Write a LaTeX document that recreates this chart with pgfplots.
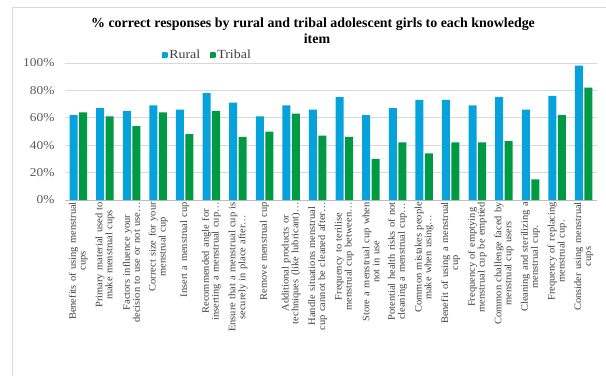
\documentclass[border=0pt]{standalone}
\usepackage{fontspec}
\setmainfont{Liberation Serif}
\newfontfamily\widefont[FakeStretch=1.12]{Liberation Serif}
\newfontfamily\labfont[FakeStretch=1.05,WordSpace=1.3]{Liberation Serif}
\usepackage{pgfplots}
\pgfplotsset{compat=1.18}
\usetikzlibrary{calc}
\definecolor{rural}{HTML}{00B6F4}
\definecolor{ruralD}{HTML}{06A2DC}
\definecolor{tribal}{HTML}{00B352}
\definecolor{tribalD}{HTML}{009A45}
\definecolor{gridgray}{HTML}{D9D9D9}
\definecolor{axgray}{HTML}{BFBFBF}
\definecolor{ticktext}{HTML}{595959}
\definecolor{labtext}{HTML}{404040}
\definecolor{bordergray}{HTML}{D9D9D9}
\begin{document}
\begin{tikzpicture}
\begin{axis}[
  name=ax,
  scale only axis, width=532bp, height=137bp,
  ymin=0, ymax=100, xmin=-0.5, xmax=19.5,
  ytick={0,20,...,100},
  yticklabel={\pgfmathprintnumber{\tick}\%},
  /pgf/number format/assume math mode=true,
  yticklabel style={font=\widefont\fontsize{12}{14}\selectfont, text=ticktext, xshift=-7bp},
  ymajorgrids, grid style={draw=gridgray, line width=0.8bp},
  axis x line*=bottom, axis y line*=left,
  x axis line style={draw=axgray, line width=0.8bp},
  y axis line style={draw=none},
  major tick length=0pt,
  xtick={0,...,19},
  xticklabels={
    {Benefits of using menstrual\\cups},
    {Primary material used to\\make menstrual cups},
    {Factors influence your\\decision to use or not use…},
    {Correct size for your\\menstrual cup},
    {Insert a menstrual cup},
    {Recommended angle for\\inserting a menstrual cup…},
    {Ensure that a menstrual cup is\\securely in place after…},
    {Remove menstrual cup},
    {Additional products or\\techniques (like lubricant)…},
    {Handle situations menstrual\\cup cannot be cleaned after…},
    {Frequency to terilise\\menstrual cup between…},
    {Store a menstrual cup when\\not in use},
    {Potential health risks of not\\cleaning a menstrual cup…},
    {Common mistakes people\\make when using…},
    {Benefit of using a menstrual\\cup},
    {Frequency of emptying\\menstrual cup be emptied},
    {Common challenge faced by\\menstrual cup users},
    {Cleaning and sterilizing a\\menstrual cup.},
    {Frequency of replacing\\menstrual cup.},
    {Consider using menstrual\\cups}},
  xticklabel style={rotate=90, anchor=east, align=center,
    font=\labfont\fontsize{10}{10}\selectfont, text=labtext, inner sep=2bp},
  ybar=1.5bp, bar width=8bp,
  legend columns=2,
  legend style={at={(rel axis cs:0.268,1.058)}, anchor=center, draw=none, fill=none,
    font=\widefont\fontsize{12.5}{14}\selectfont, text=labtext,
    nodes={inner xsep=2bp},
    /tikz/every even column/.append style={column sep=8bp}},
  legend image code/.code={\fill[#1] (0bp,-2.5bp) rectangle (5bp,2.5bp);},
]
\addplot[draw=none, left color=ruralD, middle color=rural, right color=ruralD]
  coordinates {(0,62) (1,67) (2,65) (3,69) (4,66) (5,78) (6,71) (7,61) (8,69) (9,66)
               (10,75) (11,62) (12,67) (13,73) (14,73) (15,69) (16,75) (17,66) (18,76) (19,98)};
\addplot[draw=none, left color=tribalD, middle color=tribal, right color=tribalD]
  coordinates {(0,64) (1,61) (2,54) (3,64) (4,48) (5,65) (6,46) (7,50) (8,63) (9,47)
               (10,46) (11,30) (12,42) (13,34) (14,42) (15,42) (16,43) (17,15) (18,62) (19,82)};
\legend{Rural, Tribal}
\end{axis}
\coordinate (sw) at (ax.south west);
\node[font=\bfseries\fontsize{14}{16}\selectfont, anchor=base]
  at ($(sw)+(248bp,172bp)$) {\% correct responses by rural and tribal adolescent girls to each knowledge};
\node[font=\bfseries\fontsize{14}{16}\selectfont, anchor=base]
  at ($(sw)+(252bp,156bp)$) {item};
\draw[bordergray, line width=0.8bp] ($(sw)+(-53bp,-190bp)$) |- ($(sw)+(560bp,193bp)$);
\pgfresetboundingbox
\useasboundingbox ($(sw)+(-65bp,-176bp)$) rectangle ($(sw)+(541bp,200bp)$);
\end{tikzpicture}
\end{document}
